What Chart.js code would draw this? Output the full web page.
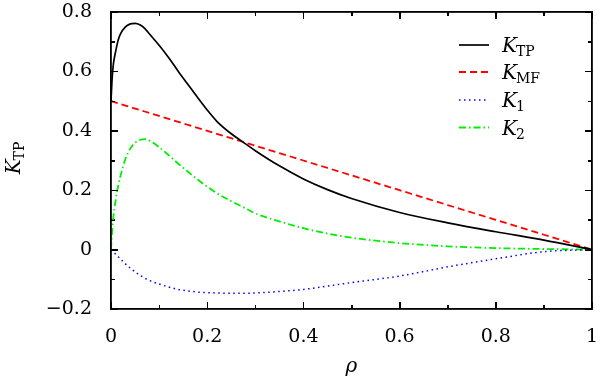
<!DOCTYPE html>
<html>
<head>
<meta charset="utf-8">
<script src="https://cdn.jsdelivr.net/npm/chart.js@4.4.1/dist/chart.umd.min.js"></script>
<style>
  html, body { margin: 0; padding: 0; background: #fff; }
  #wrap { width: 600px; height: 379px; }
</style>
</head>
<body>
<div id="wrap"><canvas id="c" width="600" height="379"></canvas></div>
<script>
// ---- data ----
const rho = [0, 0.0025, 0.005, 0.01, 0.015, 0.02, 0.03, 0.04, 0.05, 0.06, 0.07, 0.08, 0.1, 0.12, 0.14, 0.16, 0.18, 0.2, 0.22, 0.25, 0.27, 0.3, 0.35, 0.4, 0.45, 0.5, 0.6, 0.7, 0.8, 0.9, 1.0];
const kTP = [0.5, 0.58, 0.625, 0.67, 0.706, 0.727, 0.75, 0.76, 0.762, 0.757, 0.745, 0.726, 0.688, 0.646, 0.600, 0.556, 0.512, 0.47, 0.432, 0.39, 0.367, 0.333, 0.282, 0.238, 0.202, 0.172, 0.125, 0.09, 0.06, 0.032, 0];
const kMF = [0.5, 0.49875, 0.4975, 0.495, 0.4925, 0.49, 0.485, 0.48, 0.475, 0.47, 0.465, 0.46, 0.45, 0.44, 0.43, 0.42, 0.41, 0.4, 0.39, 0.375, 0.365, 0.35, 0.325, 0.3, 0.275, 0.25, 0.2, 0.15, 0.1, 0.05, 0];
const k1  = [0, -0.004, -0.008, -0.016, -0.024, -0.032, -0.048, -0.062, -0.075, -0.086, -0.096, -0.104, -0.116, -0.126, -0.134, -0.139, -0.143, -0.145, -0.146, -0.147, -0.147, -0.146, -0.141, -0.134, -0.123, -0.111, -0.089, -0.058, -0.031, -0.007, 0];
const k2  = [0, 0.065, 0.11, 0.17, 0.215, 0.25, 0.305, 0.34, 0.36, 0.369, 0.372, 0.367, 0.345, 0.318, 0.289, 0.262, 0.236, 0.212, 0.19, 0.163, 0.147, 0.122, 0.095, 0.072, 0.054, 0.04, 0.022, 0.011, 0.005, 0.002, 0];
const xTicks = [0, 0.2, 0.4, 0.6, 0.8, 1];          // labelled (major) ticks
const yTicks = [-0.2, 0, 0.2, 0.4, 0.6, 0.8];
const xMinor = [0, 0.1, 0.2, 0.3, 0.4, 0.5, 0.6, 0.7, 0.8, 0.9, 1];
const yMinor = [-0.2, -0.1, 0, 0.1, 0.2, 0.3, 0.4, 0.5, 0.6, 0.7, 0.8];
const legendMain = ['K', 'K', 'K', 'K'];
const legendSub  = ['TP', 'MF', '1', '2'];

const pts = vals => rho.map((r, i) => ({ x: r, y: vals[i] }));
const fmt = v => { const s = String(Number(v.toFixed(1))); return s.replace('-', '\u2212'); };
const isMajor = (v, majors) => majors.some(m => Math.abs(m - v) < 1e-9);

const TICKFONT = '"DejaVu Serif", serif';

function axis(pos, min, max, tickVals, opts) {
  const { labels = false, pad = 0, len = 7, border = true, weight = 0 } = opts;
  return {
    type: 'linear', position: pos, min, max, weight,
    afterBuildTicks: s => { s.ticks = tickVals.map(v => ({ value: v })); },
    afterFit: s => {
      if (pos === 'bottom') s.height = labels ? 70 : 0;
      else if (pos === 'left') s.width = labels ? 111 : 0;
      else if (pos === 'top') s.height = 0;
      else s.width = 0;
      s.paddingLeft = 0; s.paddingRight = 0; s.paddingTop = 0; s.paddingBottom = 0;
    },
    border: { display: border, color: '#000', width: 1.3 },
    grid: { display: true, drawOnChartArea: false, drawTicks: true, tickLength: -len, tickColor: '#000', tickWidth: 1 },
    ticks: {
      display: labels,
      callback: v => fmt(v),
      color: '#000', padding: pad, maxRotation: 0, autoSkip: false,
      font: { family: TICKFONT, size: 19 }
    }
  };
}

const decor = {
  id: 'decor',
  afterDraw(chart) {
    const ctx = chart.ctx;
    const a = chart.chartArea;
    const xs = chart.scales.x, ys = chart.scales.y;

    // frame and inward ticks, positioned from the scales
    ctx.save();
    ctx.setLineDash([]);
    ctx.strokeStyle = '#000000';
    ctx.lineWidth = 1.5;
    const L = Math.round(xs.getPixelForValue(0)), R = Math.round(xs.getPixelForValue(1));
    const T = Math.round(ys.getPixelForValue(0.8)), B = Math.round(ys.getPixelForValue(-0.2));
    ctx.beginPath();
    ctx.moveTo(L, T); ctx.lineTo(R, T); ctx.lineTo(R, B); ctx.lineTo(L, B); ctx.closePath();
    ctx.stroke();
    ctx.lineWidth = 1;
    ctx.beginPath();
    xMinor.forEach(v => {
      const len = isMajor(v, xTicks) ? 7 : 4;
      const px = Math.round(xs.getPixelForValue(v)) + 0.5;
      ctx.moveTo(px, T); ctx.lineTo(px, T + len);
      ctx.moveTo(px, B); ctx.lineTo(px, B - len);
    });
    yMinor.forEach(v => {
      const len = isMajor(v, yTicks) ? 7 : 4;
      const py = Math.round(ys.getPixelForValue(v)) + 0.5;
      ctx.moveTo(R, py); ctx.lineTo(R - len, py);
      ctx.moveTo(L, py); ctx.lineTo(L + len, py);
    });
    ctx.stroke();
    ctx.restore();

    ctx.save();
    // legend
    const x0 = 459, x1 = 489, tx = 502;
    const rowY = [45, 72, 100, 127.5];
    chart.data.datasets.forEach((ds, i) => {
      const yy = rowY[i];
      ctx.strokeStyle = ds.borderColor;
      ctx.lineWidth = ds.borderWidth;
      ctx.setLineDash(ds.borderDash || []);
      ctx.beginPath();
      ctx.moveTo(x0, yy); ctx.lineTo(x1, yy);
      ctx.stroke();
      ctx.setLineDash([]);
      ctx.fillStyle = '#000';
      ctx.textBaseline = 'alphabetic';
      ctx.textAlign = 'left';
      ctx.font = 'italic 20px ' + TICKFONT;
      ctx.fillText(legendMain[i], tx, yy + 7);
      const w = ctx.measureText(legendMain[i]).width;
      ctx.font = '14px ' + TICKFONT;
      ctx.fillText(legendSub[i], tx + w - 1, yy + 11);
    });
    // x axis title
    ctx.fillStyle = '#000';
    ctx.font = 'italic 20px ' + TICKFONT;
    ctx.textAlign = 'center';
    ctx.fillText('\u03C1', (a.left + a.right) / 2, 372);
    ctx.restore();

    // y axis title
    ctx.save();
    ctx.fillStyle = '#000';
    ctx.translate(20, 158);
    ctx.rotate(-Math.PI / 2);
    ctx.textAlign = 'left';
    ctx.font = 'italic 20px ' + TICKFONT;
    const kw = ctx.measureText('K').width;
    ctx.font = '14px ' + TICKFONT;
    const sw = ctx.measureText('TP').width;
    const start = -(kw + sw - 1) / 2;
    ctx.font = 'italic 20px ' + TICKFONT;
    ctx.fillText('K', start, 0);
    ctx.font = '14px ' + TICKFONT;
    ctx.fillText('TP', start + kw - 1, 4);
    ctx.restore();
  }
};

new Chart(document.getElementById('c'), {
  type: 'line',
  data: {
    datasets: [
      { label: 'K_TP', data: pts(kTP), borderColor: '#000000', borderWidth: 1.7, borderDash: [] },
      { label: 'K_MF', data: pts(kMF), borderColor: '#ff0000', borderWidth: 1.8, borderDash: [7, 4] },
      { label: 'K_1',  data: pts(k1),  borderColor: '#0000ff', borderWidth: 1.5, borderDash: [1.5, 3.5] },
      { label: 'K_2',  data: pts(k2),  borderColor: '#00ee00', borderWidth: 1.8, borderDash: [7, 3, 1.5, 3] }
    ]
  },
  options: {
    responsive: false,
    animation: false,
    devicePixelRatio: 1,
    layout: { padding: { left: 0, top: 12, right: 8, bottom: 0 } },
    elements: {
      point: { radius: 0 },
      line: { cubicInterpolationMode: 'monotone', fill: false }
    },
    plugins: { legend: { display: false }, tooltip: { enabled: false } },
    scales: {
      x:   axis('bottom', 0, 1, xTicks, { labels: true, pad: 24 }),
      x2:  axis('top', 0, 1, xTicks, {}),
      y:   axis('left', -0.2, 0.8, yTicks, { labels: true, pad: 26 }),
      y2:  axis('right', -0.2, 0.8, yTicks, {}),
      xm:  axis('bottom', 0, 1, xMinor, { len: 4, border: false, weight: -10 }),
      x2m: axis('top', 0, 1, xMinor, { len: 4, border: false, weight: -10 }),
      ym:  axis('left', -0.2, 0.8, yMinor, { len: 4, border: false, weight: -10 }),
      y2m: axis('right', -0.2, 0.8, yMinor, { len: 4, border: false, weight: -10 })
    }
  },
  plugins: [decor]
});
</script>
</body>
</html>
